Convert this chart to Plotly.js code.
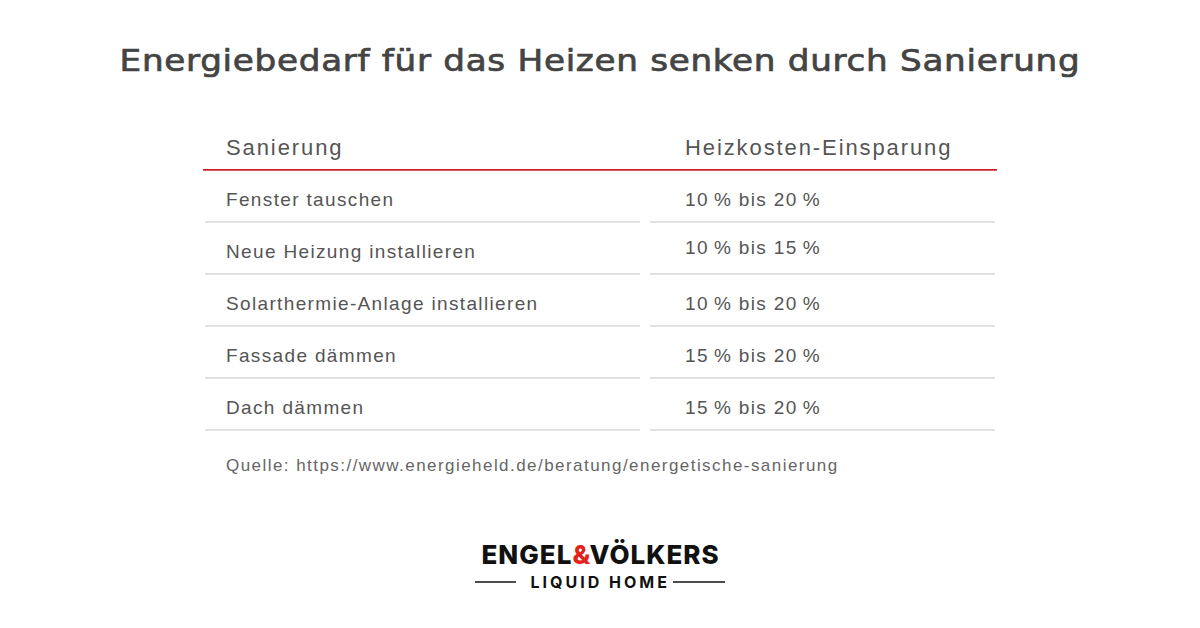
<!DOCTYPE html>
<html>
<head>
<meta charset="utf-8">
<script src="https://cdn.plot.ly/plotly-3.0.1.min.js"></script>
<style>
html,body{margin:0;padding:0;background:#fff;}
#chart{width:1200px;height:628px;}
#chart .gtitle{letter-spacing:0.6px;transform-box:fill-box;transform-origin:center;transform:scaleX(1.16);stroke:#444444;stroke-width:0.7px;}
#chart .scatterlayer .trace:nth-child(1) .textpoint text{letter-spacing:1.9px;}
#chart .scatterlayer .trace:nth-child(2) .textpoint text{letter-spacing:1.35px;}
#chart .scatterlayer .trace:nth-child(3) .textpoint text{letter-spacing:1.35px;}
#chart .scatterlayer .trace:nth-child(4) .textpoint text{letter-spacing:1.45px;}
#chart g.annotation[data-index="0"] text{letter-spacing:1px;}
#chart g.annotation[data-index="1"] text{letter-spacing:3px;}
</style>
</head>
<body>
<div id="chart"></div>
<script>
// ---- data ----
const chartTitle = "Energiebedarf für das Heizen senken durch Sanierung";
const headers = ["Sanierung", "Heizkosten-Einsparung"];
const measures = ["Fenster tauschen", "Neue Heizung installieren", "Solarthermie-Anlage installieren", "Fassade dämmen", "Dach dämmen"];
const savings = ["10\u2009% bis 20\u2009%", "10\u2009% bis 15\u2009%", "10\u2009% bis 20\u2009%", "15\u2009% bis 20\u2009%", "15\u2009% bis 20\u2009%"];
const sourceText = "Quelle: https://www.energieheld.de/beratung/energetische-sanierung";

// ---- layout helpers (row units on y, pixels on x) ----
const rowIdx = measures.map((_, i) => i);
const colX = [226, 685];
const lineHalf = 0.44;   // separator offset below row centre (row units)
const textNudge = 0.04;  // small downward nudge for text baseline
const textColor = "#555555";
const font = "Liberation Sans, Arial, sans-serif";

const traces = [];
// header
traces.push({type: "scatter", mode: "text", x: colX, y: [-1 + textNudge, -1 + textNudge], text: headers,
  textposition: "middle right", textfont: {family: font, size: 22, color: textColor},
  hoverinfo: "skip", showlegend: false, cliponaxis: false});
// body columns
traces.push({type: "scatter", mode: "text", x: rowIdx.map(() => colX[0]), y: rowIdx.map(i => i + textNudge), text: measures,
  textposition: "middle right", textfont: {family: font, size: 19, color: textColor},
  hoverinfo: "skip", showlegend: false, cliponaxis: false});
traces.push({type: "scatter", mode: "text", x: rowIdx.map(() => colX[1]), y: rowIdx.map(i => (i === 1 ? i - 0.07 : i) + textNudge), text: savings,
  textposition: "middle right", textfont: {family: font, size: 19, color: textColor},
  hoverinfo: "skip", showlegend: false, cliponaxis: false});
// source line
traces.push({type: "scatter", mode: "text", x: [colX[0]], y: [measures.length + 0.15], text: [sourceText],
  textposition: "middle right", textfont: {family: font, size: 17, color: "#666666"},
  hoverinfo: "skip", showlegend: false, cliponaxis: false});
// red header rule
traces.push({type: "scatter", mode: "lines", x: [203, 997], y: [-1 + lineHalf, -1 + lineHalf],
  line: {color: "#cc1f2d", width: 1.6}, hoverinfo: "skip", showlegend: false});
// grey row separators
const sx = [], sy = [];
rowIdx.forEach(i => {
  sx.push(205, 640, null, 650, 995, null);
  const yy = i + lineHalf;
  sy.push(yy, yy, null, yy, yy, null);
});
traces.push({type: "scatter", mode: "lines", x: sx, y: sy,
  line: {color: "#dddddd", width: 1.6}, hoverinfo: "skip", showlegend: false});

const layout = {
  width: 1200, height: 628,
  margin: {l: 0, r: 0, t: 0, b: 0},
  paper_bgcolor: "#ffffff", plot_bgcolor: "#ffffff",
  xaxis: {range: [0, 1200], visible: false, fixedrange: true},
  yaxis: {range: [(628 - 199) / 52, -199 / 52], visible: false, fixedrange: true},
  title: {text: chartTitle, x: 0.5, xanchor: "center", y: 1 - 61 / 628, yanchor: "middle",
    font: {family: "DejaVu Sans, sans-serif", size: 29.5, color: "#444444"}},
  annotations: [
    {text: "ENGEL<span style='color:#e2231a'>&</span>VÖLKERS", xref: "paper", yref: "paper",
      x: 0.5, y: 1 - 554 / 628, xanchor: "center", yanchor: "middle", showarrow: false,
      font: {family: "Inter, Liberation Sans, sans-serif", size: 26, color: "#111111", weight: 800}},
    {text: "LIQUID HOME", xref: "paper", yref: "paper",
      x: 0.5, y: 1 - 582 / 628, xanchor: "center", yanchor: "middle", showarrow: false,
      font: {family: "Inter, Liberation Sans, sans-serif", size: 16, color: "#111111", weight: 700}}
  ],
  shapes: [
    {type: "line", xref: "paper", yref: "paper", x0: 475 / 1200, x1: 516 / 1200, y0: 1 - 582 / 628, y1: 1 - 582 / 628, line: {color: "#111", width: 1.5}},
    {type: "line", xref: "paper", yref: "paper", x0: 673 / 1200, x1: 725 / 1200, y0: 1 - 582 / 628, y1: 1 - 582 / 628, line: {color: "#111", width: 1.5}}
  ]
};

Plotly.newPlot("chart", traces, layout, {displayModeBar: false, staticPlot: true});
</script>
</body>
</html>
